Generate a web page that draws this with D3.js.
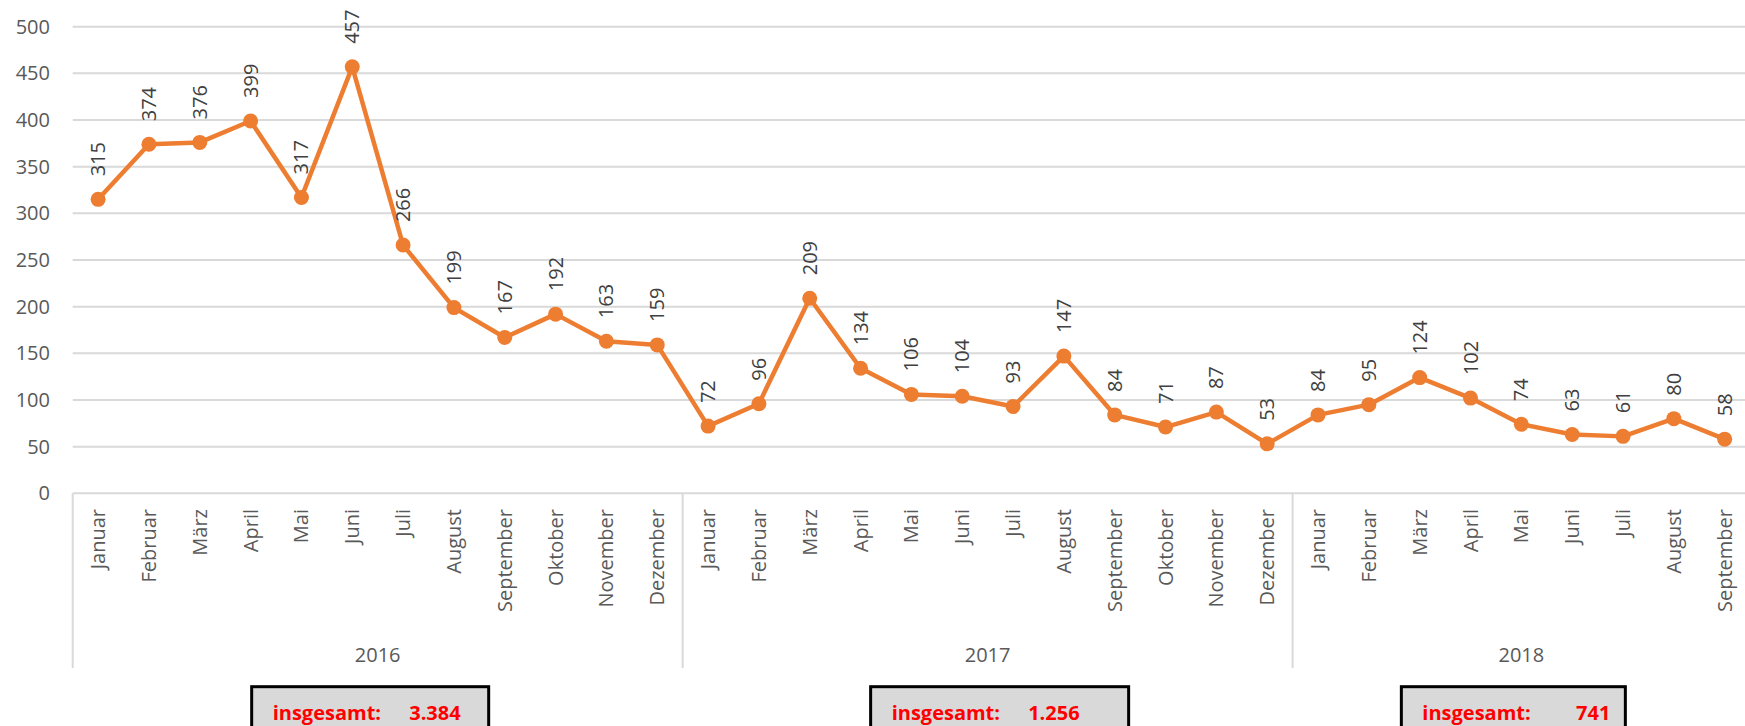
<!DOCTYPE html>
<html>
<head>
<meta charset="utf-8">
<script src="https://cdn.jsdelivr.net/npm/d3@7"></script>
<style>
  body { margin: 0; background: #fff; overflow: hidden; }
  svg { display: block; font-family: "Open Sans", sans-serif; }
</style>
</head>
<body>
<script>
// data
const years = ["2016", "2017", "2018"];
const months = ["Januar", "Februar", "März", "April", "Mai", "Juni", "Juli", "August",
                "September", "Oktober", "November", "Dezember"];
const values2016 = [315, 374, 376, 399, 317, 457, 266, 199, 167, 192, 163, 159];
const values2017 = [72, 96, 209, 134, 106, 104, 93, 147, 84, 71, 87, 53];
const values2018 = [84, 95, 124, 102, 74, 63, 61, 80, 58];
const yTicks = [0, 50, 100, 150, 200, 250, 300, 350, 400, 450, 500];
const totalLabel = "insgesamt:";

const w = 1745;
const h = 726;
const plotLeft = 72.7;
const band = 50.83;
const plotTop = 26.7;
const plotBottom = 493.3;

const series = [values2016, values2017, values2018];
const data = [];
series.forEach((vals, yi) => {
  vals.forEach((v, mi) => {
    data.push({ key: years[yi] + "-" + mi, year: years[yi], month: months[mi], value: v });
  });
});

const de = d3.formatLocale({ decimal: ",", thousands: ".", grouping: [3], currency: ["", " €"] });
const fmt = de.format(",d");

const svg = d3.select("body")
              .append("svg")
              .attr("width", w)
              .attr("height", h);

const x = d3.scaleBand()
            .domain(data.map(d => d.key))
            .range([plotLeft, plotLeft + band * data.length]);

const y = d3.scaleLinear()
            .domain([0, 500])
            .range([plotBottom, plotTop]);

// gridlines
svg.append("g")
   .selectAll("line")
   .data(yTicks)
   .enter()
   .append("line")
   .attr("x1", plotLeft)
   .attr("x2", plotLeft + band * data.length)
   .attr("y1", d => y(d))
   .attr("y2", d => y(d))
   .attr("stroke", "#d9d9d9")
   .attr("stroke-width", 2);

// y labels
svg.append("g")
   .selectAll("text")
   .data(yTicks)
   .enter()
   .append("text")
   .attr("x", 50)
   .attr("y", d => y(d))
   .attr("dy", "0.35em")
   .attr("text-anchor", "end")
   .attr("font-size", 20)
   .attr("fill", "#595959")
   .text(d => d);

// year groups on the category axis
const groups = years.map((yr, i) => {
  const keys = data.filter(d => d.year === yr).map(d => d.key);
  const x0 = x(keys[0]);
  const x1 = x(keys[keys.length - 1]) + x.bandwidth();
  return { year: yr, x0: x0, x1: x1, mid: (x0 + x1) / 2, total: d3.sum(series[i]) };
});

const dividers = [groups[0].x0].concat(groups.map(g => g.x1));
svg.append("g")
   .selectAll("line")
   .data(dividers)
   .enter()
   .append("line")
   .attr("x1", d => d)
   .attr("x2", d => d)
   .attr("y1", plotBottom)
   .attr("y2", 668)
   .attr("stroke", "#d9d9d9")
   .attr("stroke-width", 2);

svg.append("g")
   .selectAll("text")
   .data(data)
   .enter()
   .append("text")
   .attr("transform", d => "translate(" + (x(d.key) + x.bandwidth() / 2) + ",509) rotate(-90)")
   .attr("dy", "0.35em")
   .attr("text-anchor", "end")
   .attr("font-size", 20)
   .attr("fill", "#595959")
   .text(d => d.month);

svg.append("g")
   .selectAll("text")
   .data(groups)
   .enter()
   .append("text")
   .attr("x", d => d.mid)
   .attr("y", 661.5)
   .attr("text-anchor", "middle")
   .attr("font-size", 20)
   .attr("fill", "#595959")
   .text(d => d.year);

// line + markers
const line = d3.line()
               .x(d => x(d.key) + x.bandwidth() / 2)
               .y(d => y(d.value));

svg.append("path")
   .datum(data)
   .attr("d", line)
   .attr("fill", "none")
   .attr("stroke", "#ED7D31")
   .attr("stroke-width", 4.5)
   .attr("stroke-linejoin", "round");

svg.append("g")
   .selectAll("circle")
   .data(data)
   .enter()
   .append("circle")
   .attr("cx", d => x(d.key) + x.bandwidth() / 2)
   .attr("cy", d => y(d.value))
   .attr("r", 7.5)
   .attr("fill", "#ED7D31");

// data labels
svg.append("g")
   .selectAll("text")
   .data(data)
   .enter()
   .append("text")
   .attr("transform", d => "translate(" + (x(d.key) + x.bandwidth() / 2) + "," + (y(d.value) - 23) + ") rotate(-90)")
   .attr("dy", "0.35em")
   .attr("font-size", 20)
   .attr("fill", "#404040")
   .text(d => d.value);

// total boxes below each year (hand placed in the original)
const boxOffset = [-126, -117, -120];
const boxWidth = [237, 258, 224];
const boxes = svg.append("g")
                 .selectAll("g")
                 .data(groups)
                 .enter()
                 .append("g")
                 .attr("transform", (d, i) => "translate(" + (d.mid + boxOffset[i]) + ",686.7)");

boxes.append("rect")
     .attr("width", (d, i) => boxWidth[i])
     .attr("height", 60)
     .attr("fill", "#d9d9d9")
     .attr("stroke", "#000")
     .attr("stroke-width", 3);

boxes.append("text")
     .attr("x", 21)
     .attr("y", 33)
     .attr("font-size", 20)
     .attr("font-weight", "bold")
     .attr("fill", "#ff0000")
     .text(totalLabel);

boxes.append("text")
     .attr("x", 209)
     .attr("y", 33)
     .attr("text-anchor", "end")
     .attr("font-size", 20)
     .attr("font-weight", "bold")
     .attr("fill", "#ff0000")
     .text(d => fmt(d.total));
</script>
</body>
</html>
